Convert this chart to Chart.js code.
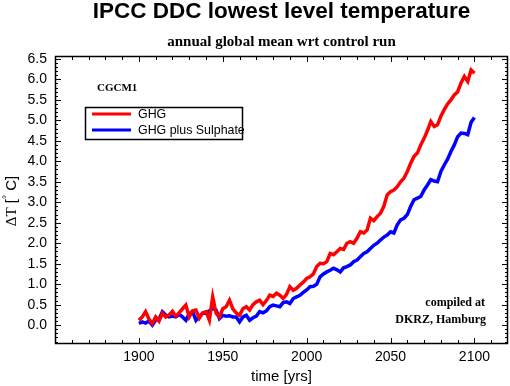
<!DOCTYPE html>
<html>
<head>
<meta charset="utf-8">
<script src="https://cdn.jsdelivr.net/npm/chart.js@4/dist/chart.umd.min.js"></script>
<style>
html,body{margin:0;padding:0;background:#fff;}
#wrap{width:510px;height:386px;position:relative;}
</style>
</head>
<body>
<div id="wrap"><canvas id="c" width="510" height="386"></canvas></div>
<script>
const years = [1900,1902,1904,1906,1908,1910,1912,1914,1916,1918,1920,1922,1924,1926,1928,1930,1932,1934,1936,1938,1940,1942,1944,1946,1948,1950,1952,1954,1956,1958,1960,1962,1964,1966,1968,1970,1972,1974,1976,1978,1980,1982,1984,1986,1988,1990,1992,1994,1996,1998,2000,2002,2004,2006,2008,2010,2012,2014,2016,2018,2020,2022,2024,2026,2028,2030,2032,2034,2036,2038,2040,2042,2044,2046,2048,2050,2052,2054,2056,2058,2060,2062,2064,2066,2068,2070,2072,2074,2076,2078,2080,2082,2084,2086,2088,2090,2092,2094,2096,2098,2100];
const ghg = [0.12,0.2,0.33,0.15,0.04,0.2,0.1,0.29,0.2,0.25,0.34,0.22,0.3,0.4,0.49,0.2,0.35,0.37,0.17,0.3,0.33,0.12,0.69,0.29,0.2,0.4,0.45,0.61,0.4,0.3,0.24,0.4,0.45,0.37,0.5,0.57,0.61,0.5,0.6,0.73,0.7,0.78,0.73,0.65,0.75,0.94,0.85,0.9,0.98,1.05,1.14,1.18,1.25,1.43,1.51,1.5,1.55,1.75,1.72,1.79,1.87,1.85,2.0,2.04,2.0,2.12,2.28,2.25,2.32,2.61,2.55,2.65,2.73,2.9,3.18,3.26,3.3,3.38,3.5,3.59,3.75,3.95,4.12,4.2,4.4,4.56,4.75,4.97,4.85,4.89,5.1,5.26,5.4,5.5,5.62,5.7,5.91,6.07,5.95,6.23,6.15];
const ghgSulphate = [0.04,0.08,0.05,0.1,0.0,0.12,0.15,0.33,0.25,0.2,0.22,0.2,0.26,0.2,0.12,0.28,0.33,0.12,0.22,0.29,0.29,0.35,0.41,0.37,0.16,0.24,0.22,0.23,0.2,0.2,0.08,0.2,0.24,0.12,0.18,0.22,0.33,0.3,0.35,0.45,0.49,0.47,0.45,0.55,0.57,0.53,0.65,0.69,0.73,0.8,0.86,0.94,0.95,1.0,1.18,1.25,1.3,1.34,1.39,1.35,1.3,1.4,1.43,1.47,1.55,1.59,1.67,1.75,1.79,1.87,1.95,2.0,2.08,2.15,2.2,2.28,2.25,2.45,2.57,2.61,2.7,2.9,3.06,3.1,3.14,3.3,3.42,3.55,3.52,3.5,3.75,3.91,4.05,4.24,4.4,4.6,4.69,4.68,4.65,4.95,5.07];
const xTickLabels = [1900,1950,2000,2050,2100];
const yTickLabels = [0.0,0.5,1.0,1.5,2.0,2.5,3.0,3.5,4.0,4.5,5.0,5.5,6.0,6.5];
const seriesNames = ["GHG","GHG plus Sulphate"];

const SANS = '"Liberation Sans", Arial, sans-serif';
const SERIF = '"Liberation Serif", "Times New Roman", serif';

const decor = {
  id: 'decor',
  afterDraw(chart) {
    const ctx = chart.ctx;
    const a = chart.chartArea;
    const xs = chart.scales.x, ys = chart.scales.y;
    ctx.save();
    // frame
    ctx.strokeStyle = '#000';
    ctx.lineWidth = 1.5;
    ctx.strokeRect(a.left + 0.5, a.top + 0.5, a.right - a.left - 1, a.bottom - a.top - 1);
    ctx.lineWidth = 1;
    ctx.beginPath();
    // x ticks (every 10 yrs, major every 50)
    for (let yr = 1860; yr <= 2110; yr += 10) {
      const px = Math.round(xs.getPixelForValue(yr)) + 0.5;
      const len = (yr % 50 === 0) ? 6 : 4;
      ctx.moveTo(px, a.bottom); ctx.lineTo(px, a.bottom - len);
      ctx.moveTo(px, a.top); ctx.lineTo(px, a.top + len);
    }
    // y ticks (every 0.1, major every 0.5)
    for (let i = -4; i <= 65; i++) {
      const v = i / 10;
      const py = Math.round(ys.getPixelForValue(v)) + 0.5;
      const len = (i % 5 === 0) ? 6 : 3;
      ctx.moveTo(a.left, py); ctx.lineTo(a.left + len, py);
      ctx.moveTo(a.right, py); ctx.lineTo(a.right - len, py);
    }
    ctx.stroke();

    // titles
    ctx.fillStyle = '#000';
    ctx.textAlign = 'center';
    ctx.textBaseline = 'alphabetic';
    const cx = (a.left + a.right) / 2;
    ctx.font = 'bold 22.5px ' + SANS;
    ctx.fillText('IPCC DDC lowest level temperature', cx, 18);
    ctx.font = 'bold 15px ' + SERIF;
    ctx.fillText('annual global mean wrt control run', cx, 46);

    // CGCM1 label
    ctx.textAlign = 'left';
    ctx.textBaseline = 'middle';
    ctx.font = 'bold 11px ' + SERIF;
    ctx.fillText('CGCM1', 97, 88);

    // legend box
    ctx.lineWidth = 1.5;
    ctx.strokeRect(85.5, 107.5, 157, 32);
    const ds = chart.data.datasets;
    const rows = [114, 130];
    ctx.font = '12.4px ' + SANS;
    for (let i = 0; i < 2; i++) {
      ctx.strokeStyle = ds[i].borderColor;
      ctx.lineWidth = 3;
      ctx.beginPath();
      ctx.moveTo(92, rows[i]); ctx.lineTo(131, rows[i]);
      ctx.stroke();
      ctx.fillStyle = '#000';
      ctx.fillText(seriesNames[i], 138, rows[i] + 1);
    }

    // compiled at
    ctx.textAlign = 'right';
    ctx.font = 'bold 12px ' + SERIF;
    ctx.fillText('compiled at', 485, 303);
    ctx.fillText('DKRZ, Hamburg', 486, 320);

    // y axis title (rotated)
    ctx.save();
    ctx.translate(12, 201);
    ctx.rotate(-Math.PI / 2);
    ctx.textBaseline = 'middle';
    ctx.textAlign = 'left';
    const p1 = 'ΔT', p2 = ' [', p3 = '°', p4 = ' C]';
    ctx.font = '15px ' + SERIF;
    const w1 = ctx.measureText(p1).width;
    ctx.font = '15px ' + SANS;
    const w2 = ctx.measureText(p2).width;
    ctx.font = '10px ' + SANS;
    const w3 = ctx.measureText(p3).width;
    ctx.font = '15px ' + SANS;
    const w4 = ctx.measureText(p4).width;
    let x0 = -(w1 + w2 + w3 + w4) / 2;
    ctx.font = '15px ' + SERIF;
    ctx.fillText(p1, x0, 0); x0 += w1;
    ctx.font = '15px ' + SANS;
    ctx.fillText(p2, x0, 0); x0 += w2;
    ctx.font = '10px ' + SANS;
    ctx.fillText(p3, x0, -5); x0 += w3;
    ctx.font = '15px ' + SANS;
    ctx.fillText(p4, x0, 0);
    ctx.restore();

    ctx.restore();
  }
};

new Chart(document.getElementById('c'), {
  type: 'line',
  data: {
    datasets: [
      { label: seriesNames[0], data: years.map((y, i) => ({x: y, y: ghg[i]})), borderColor: '#ff0000', borderWidth: 3.5, pointRadius: 0, tension: 0, fill: false },
      { label: seriesNames[1], data: years.map((y, i) => ({x: y, y: ghgSulphate[i]})), borderColor: '#0000ff', borderWidth: 3.5, pointRadius: 0, tension: 0, fill: false }
    ]
  },
  options: {
    responsive: false,
    animation: false,
    devicePixelRatio: 1,
    layout: { padding: { top: 56, right: 2, left: 0, bottom: 0 } },
    plugins: { legend: { display: false }, title: { display: false }, tooltip: { enabled: false } },
    scales: {
      x: {
        type: 'linear', min: 1850, max: 2120,
        grid: { display: false, drawTicks: false },
        border: { display: false },
        afterBuildTicks: (s) => { s.ticks = xTickLabels.map(v => ({value: v})); },
        afterFit: (s) => { s.height = 42; },
        ticks: { color: '#000', font: { family: SANS, size: 14 }, padding: 5, autoSkip: false, maxRotation: 0, callback: (v) => String(v) },
        title: { display: true, text: 'time [yrs]', color: '#000', font: { family: SANS, size: 15 }, padding: { top: 0, bottom: 0 } }
      },
      y: {
        type: 'linear', min: -0.46, max: 6.57,
        grid: { display: false, drawTicks: false },
        border: { display: false },
        afterBuildTicks: (s) => { s.ticks = yTickLabels.map(v => ({value: v})); },
        afterFit: (s) => { s.width = 55; },
        ticks: { color: '#000', font: { family: SANS, size: 14 }, padding: 8, autoSkip: false, callback: (v) => Number(v).toFixed(1) }
      }
    }
  },
  plugins: [decor]
});
</script>
</body>
</html>
